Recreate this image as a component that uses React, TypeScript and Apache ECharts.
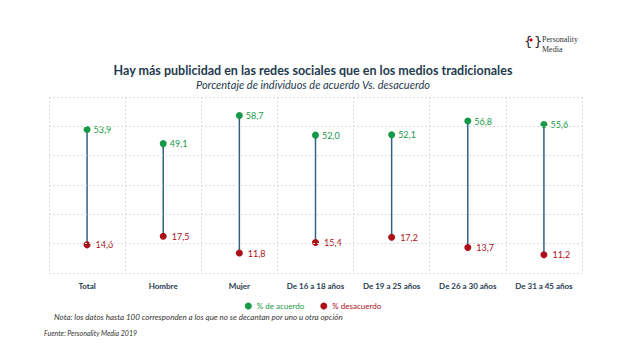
import React, { useEffect, useRef } from "react";
import * as echarts from "echarts";

const categories = ["Total", "Hombre", "Mujer", "De 16 a 18 años", "De 19 a 25 años", "De 26 a 30 años", "De 31 a 45 años"];
const acuerdo = [53.9, 49.1, 58.7, 52.0, 52.1, 56.8, 55.6];
const desacuerdo = [14.6, 17.5, 11.8, 15.4, 17.2, 13.7, 11.2];
const gridValues = [5, 15, 25, 35, 45, 55, 65];

const GREEN = "#179a48";
const RED = "#ad1018";
const LINE = "#2e6385";
const DARK = "#1f3b4f";
const GRIDC = "#dcdcdc";
const FONT = "Lato, 'Open Sans', sans-serif";

const fmt = (v: number) => v.toFixed(1).replace(".", ",");

export default function App() {
  const ref = useRef<HTMLDivElement>(null);
  useEffect(() => {
    document.body.style.margin = "0";
    const chart = echarts.init(ref.current!, null, { renderer: "svg" });
    chart.setOption({
      animation: false,
      backgroundColor: "#ffffff",
      textStyle: { fontFamily: FONT },
      title: {
        text: "Hay más publicidad en las redes sociales que en los medios tradicionales",
        subtext: "Porcentaje de individuos de acuerdo Vs. desacuerdo",
        left: "center",
        top: 59,
        itemGap: 2,
        textStyle: { fontSize: 12.5, fontWeight: "bold", color: DARK, fontFamily: FONT },
        subtextStyle: { fontSize: 11, fontStyle: "italic", color: DARK, fontFamily: FONT },
      },
      legend: {
        data: [
          { name: "% de acuerdo", itemStyle: { color: GREEN }, textStyle: { color: GREEN } },
          { name: "% desacuerdo", itemStyle: { color: RED }, textStyle: { color: RED } },
        ],
        top: 297,
        left: "center",
        icon: "circle",
        itemWidth: 7,
        itemHeight: 7,
        itemGap: 16,
        textStyle: { fontSize: 8, fontFamily: FONT },
      },
      grid: { left: 49, right: 44, top: 97, bottom: 91 },
      xAxis: {
        type: "category",
        data: categories,
        boundaryGap: true,
        axisLine: { show: false },
        axisTick: { show: false },
        axisLabel: { color: DARK, fontWeight: "bold", fontSize: 8, margin: 9, fontFamily: FONT, interval: 0 },
        splitLine: { show: true, lineStyle: { type: [2, 2], color: GRIDC, width: 1 } },
      },
      yAxis: { type: "value", min: 5, max: 65, show: false },
      series: [
        {
          type: "custom",
          silent: true,
          data: categories.map((_, i) => [i, acuerdo[i], desacuerdo[i]]),
          renderItem: (params: any, api: any) => {
            const p1 = api.coord([api.value(0), api.value(1)]);
            const p2 = api.coord([api.value(0), api.value(2)]);
            return {
              type: "line",
              shape: { x1: p1[0], y1: p1[1], x2: p2[0], y2: p2[1] },
              style: { stroke: LINE, lineWidth: 1.5 },
            };
          },
          markLine: {
            silent: true,
            symbol: "none",
            label: { show: false },
            lineStyle: { type: [2, 2], color: GRIDC, width: 1 },
            data: gridValues.map((v) => ({ yAxis: v })),
          },
          z: 1,
        },
        {
          name: "% de acuerdo",
          type: "scatter",
          data: acuerdo,
          symbolSize: 7,
          itemStyle: { color: GREEN, opacity: 1 },
          label: { show: true, position: "right", distance: 3, color: GREEN, fontSize: 9, formatter: (p: any) => fmt(p.value), fontFamily: FONT },
          z: 3,
        },
        {
          name: "% desacuerdo",
          type: "scatter",
          data: desacuerdo,
          symbolSize: 7,
          itemStyle: { color: RED, opacity: 1 },
          label: { show: true, position: "right", distance: 5, color: RED, fontSize: 9, formatter: (p: any) => fmt(p.value), fontFamily: FONT },
          z: 3,
        },
      ],
      graphic: [
        {
          type: "text",
          left: 54,
          top: 313,
          style: {
            text: "Nota: los datos hasta 100 corresponden a los que no se decantan por uno u otra opción",
            fontSize: 8,
            fontStyle: "italic",
            fill: "#333",
            fontFamily: FONT,
          },
        },
        {
          type: "text",
          left: 44,
          top: 329,
          style: {
            text: "Fuente: Personality Media 2019",
            fontSize: 7,
            fontStyle: "italic",
            fill: "#333",
            fontFamily: FONT,
          },
        },
        {
          type: "text",
          left: 524,
          top: 35,
          style: { text: "{", fontSize: 13, fill: "#222", fontFamily: "DejaVu Sans" },
        },
        {
          type: "circle",
          shape: { cx: 531, cy: 40, r: 1.6 },
          style: { fill: "#d0021b" },
        },
        {
          type: "text",
          left: 534,
          top: 35,
          style: { text: "}", fontSize: 13, fill: "#222", fontFamily: "DejaVu Sans" },
        },
        {
          type: "text",
          left: 542,
          top: 35,
          style: { text: "Personality", fontSize: 8, fill: "#333", fontFamily: "'Liberation Serif', serif" },
        },
        {
          type: "text",
          left: 542,
          top: 45,
          style: { text: "Media", fontSize: 8, fill: "#333", fontFamily: "'Liberation Serif', serif" },
        },
      ],
    });
    return () => chart.dispose();
  }, []);
  return <div ref={ref} style={{ width: 626, height: 364 }} />;
}
